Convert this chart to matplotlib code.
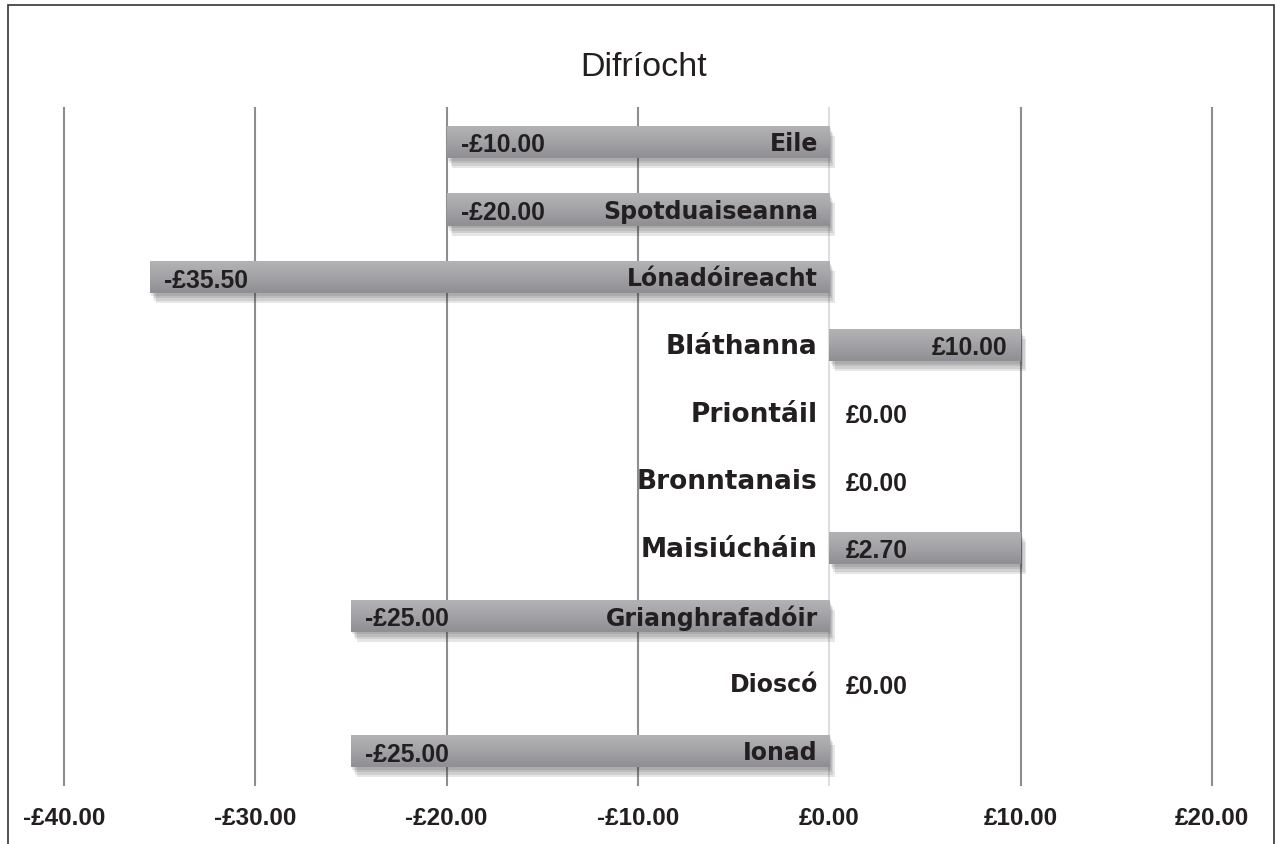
import numpy as np
import matplotlib.pyplot as plt
import matplotlib.patheffects as pe
from matplotlib.patches import Rectangle

# ---- data (top to bottom as shown) ----
categories = ['Eile', 'Spotduaiseanna', 'Lónadóireacht', 'Bláthanna', 'Priontáil',
              'Bronntanais', 'Maisiúcháin', 'Grianghrafadóir', 'Dioscó', 'Ionad']
bar_values = [-20, -20, -35.5, 10, 0, 0, 10, -25, 0, -25]
value_labels = ['-£10.00', '-£20.00', '-£35.50', '£10.00', '£0.00',
                '£0.00', '£2.70', '-£25.00', '£0.00', '-£25.00']
x_ticks = [-40, -30, -20, -10, 0, 10, 20]
x_tick_labels = ['-£40.00', '-£30.00', '-£20.00', '-£10.00', '£0.00', '£10.00', '£20.00']

# which labels sit at the bar end (vs. at the base) and which category names are big
value_at_end = [True, True, True, True, False, False, False, True, False, True]
big_name = [False, False, False, True, True, True, True, False, False, False]

TXT = '#231f20'
NUM_FONT = ['Liberation Sans', 'DejaVu Sans']

fig = plt.figure(figsize=(12.76, 8.44), dpi=100)
ax = fig.add_axes([64/1276, 1-785/844, (1212-64)/1276, (785-108)/844])

y = np.arange(len(categories))[::-1]
bh = 0.48
bars = ax.barh(y, bar_values, height=bh, color='#a2a2a6', zorder=3)

# soft drop shadow (a few stacked offsets) + vertical gradient fill
shadow = [pe.SimplePatchShadow(offset=(o, -o * 1.8), alpha=0.12, shadow_rgbFace='#333333')
          for o in (1, 2, 3, 4)]
grad = np.linspace(0, 1, 64).reshape(-1, 1)
cmap = plt.matplotlib.colors.LinearSegmentedColormap.from_list(
    'g', ['#b4b4b7', '#a3a3a7', '#8f8f93'])
for b in bars:
    if b.get_width() == 0:
        continue
    b.set_path_effects(shadow + [pe.Normal()])
    x0, w = b.get_x(), b.get_width()
    y0, h = b.get_y(), b.get_height()
    im = ax.imshow(grad, cmap=cmap, extent=(x0, x0 + w, y0, y0 + h),
                   origin='upper', aspect='auto', zorder=3.5)
    im.set_clip_path(b)

ax.set_xlim(-40, 20)
ax.set_ylim(-0.5, 9.5)

for xt in x_ticks:
    ax.axvline(xt, color='#dedede' if xt == 0 else '#8e8e8e', lw=1.5, zorder=1, clip_on=False)

for yi, name, v, lab, at_end, big in zip(y, categories, bar_values, value_labels, value_at_end, big_name):
    ty = yi - 0.03
    ax.text(-0.6, ty, name, ha='right', va='center', fontsize=19 if big else 17,
            fontweight='bold', color=TXT, zorder=5)
    if at_end and v < 0:
        xx, ha = v + 0.75, 'left'
    elif at_end and v > 0:
        xx, ha = v - 0.7, 'right'
    else:
        xx, ha = 0.85, 'left'
    ax.text(xx, ty - 0.02, lab, ha=ha, va='center', fontsize=17.8, family=NUM_FONT,
            fontweight='bold', color=TXT, zorder=5)

ax.set_xticks(x_ticks)
ax.set_xticklabels(x_tick_labels, fontsize=17.5, fontweight='bold', color=TXT,
                   family=NUM_FONT)
ax.tick_params(axis='x', length=0, pad=16)
ax.set_yticks([])
for s in ax.spines.values():
    s.set_visible(False)

fig.text(644/1276, 1-67/844, 'Difríocht', ha='center', va='center', fontsize=24.5,
         family='Liberation Sans', color=TXT)

fig.patches.append(Rectangle((8/1276, -0.01), (1274-8)/1276, 1-5/844 + 0.01,
                             transform=fig.transFigure, fill=False, ec='#333333', lw=1.2))

fig.savefig('out.png', dpi=100)
